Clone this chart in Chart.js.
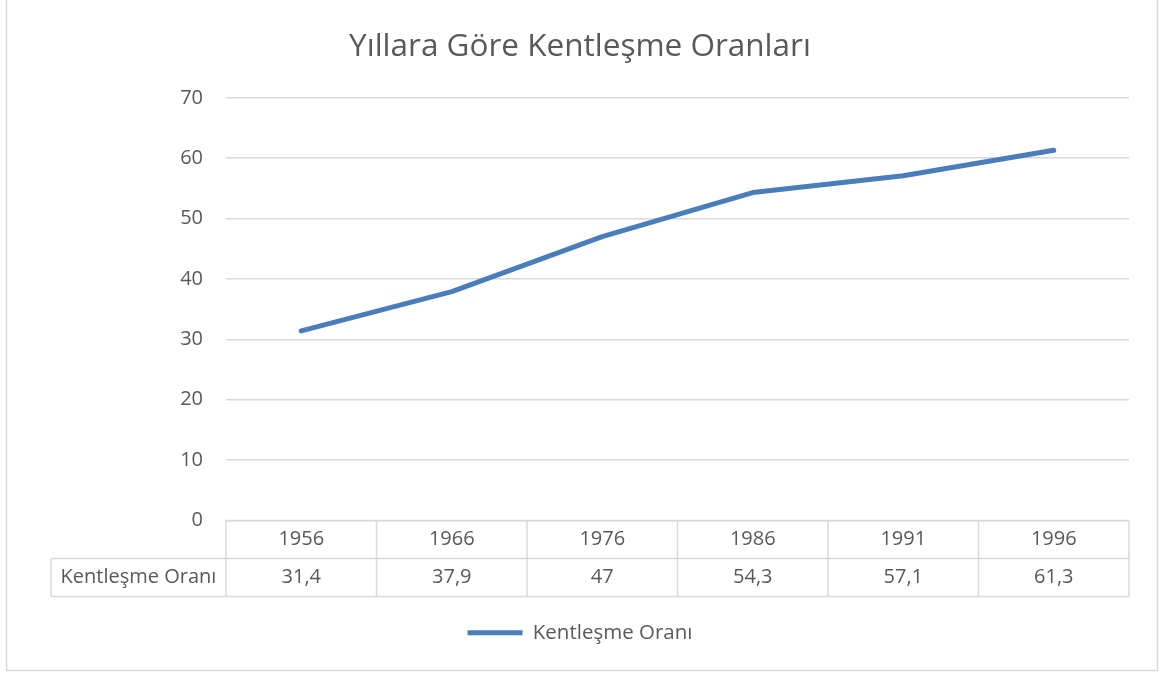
<!DOCTYPE html>
<html>
<head>
<meta charset="utf-8">
<script src="https://cdn.jsdelivr.net/npm/chart.js@4.4.1/dist/chart.umd.min.js"></script>
<style>
  html, body { margin: 0; padding: 0; background: #fff; }
  #wrap { width: 1159px; height: 673px; }
</style>
</head>
<body>
<div id="wrap"><canvas id="chart" width="1159" height="673"></canvas></div>
<script>
// data
var years = ['1956', '1966', '1976', '1986', '1991', '1996']
var kentlesme = [31.4, 37.9, 47, 54.3, 57.1, 61.3]
var seriesName = 'Kentleşme Oranı'
var chartTitle = 'Yıllara Göre Kentleşme Oranları'

var fontFamily = '"Open Sans", "Noto Sans", sans-serif'
var textColor = '#595959'
var lineColor = '#d9d9d9'

function fmt(v) {
    return String(v).replace('.', ',')
}

// draws the outer frame and the data table under the plot
var tablePlugin = {
    id: 'dataTable',
    beforeDraw: function (chart) {
        var ctx = chart.ctx
        ctx.save()
        ctx.strokeStyle = lineColor
        ctx.lineWidth = 1.5
        ctx.strokeRect(6.5, -5, 1151, 675.5)
        ctx.restore()
    },
    afterDraw: function (chart) {
        var ctx = chart.ctx
        var area = chart.chartArea
        var x = chart.scales.x
        var top = area.bottom
        var rowH = 38
        var mid = top + rowH
        var bottom = top + rowH * 2
        var headLeft = 51
        var colW = (area.right - area.left) / years.length

        ctx.save()
        ctx.strokeStyle = lineColor
        ctx.lineWidth = 1.5
        ctx.beginPath()
        ctx.moveTo(area.left, top); ctx.lineTo(area.right, top)
        ctx.moveTo(headLeft, mid); ctx.lineTo(area.right, mid)
        ctx.moveTo(headLeft, bottom); ctx.lineTo(area.right, bottom)
        ctx.moveTo(headLeft, mid); ctx.lineTo(headLeft, bottom)
        for (var i = 0; i <= years.length; i++) {
            var cx = area.left + i * colW
            ctx.moveTo(cx, top); ctx.lineTo(cx, bottom)
        }
        ctx.stroke()

        ctx.fillStyle = textColor
        ctx.font = '20px ' + fontFamily
        ctx.textAlign = 'center'
        ctx.textBaseline = 'middle'
        for (var j = 0; j < years.length; j++) {
            var px = x.getPixelForValue(j)
            ctx.fillText(years[j], px, top + rowH / 2)
            ctx.fillText(fmt(kentlesme[j]), px, mid + rowH / 2)
        }
        ctx.fillText(seriesName, (headLeft + area.left) / 2, mid + rowH / 2)
        ctx.restore()
    }
}

var ctx = document.getElementById('chart').getContext('2d')
var chart = new Chart(ctx, {
    type: 'line',
    data: {
        labels: years,
        datasets: [
            {
                label: seriesName,
                data: kentlesme,
                borderColor: '#4a7ebb',
                backgroundColor: '#4a7ebb',
                borderWidth: 5,
                borderCapStyle: 'round',
                borderJoinStyle: 'round',
                pointRadius: 0,
                pointHoverRadius: 0,
                tension: 0,
                fill: false
            }
        ]
    },
    options: {
        responsive: false,
        animation: false,
        layout: {
            padding: { top: 28, right: 30, bottom: 20, left: 31 }
        },
        scales: {
            x: {
                offset: true,
                grid: { display: false },
                border: { display: false },
                ticks: { display: false },
                afterFit: function (scale) { scale.height = 92 }
            },
            y: {
                min: 0,
                max: 70,
                ticks: {
                    stepSize: 10,
                    padding: 23,
                    color: textColor,
                    font: { family: fontFamily, size: 20 }
                },
                grid: { color: lineColor, lineWidth: 1.5, drawTicks: false },
                border: { display: false },
                afterFit: function (scale) { scale.width = 195 }
            }
        },
        plugins: {
            title: {
                display: true,
                text: chartTitle,
                color: textColor,
                font: { family: fontFamily, size: 31.5, weight: 'normal', lineHeight: 1.2 },
                padding: { top: 0, bottom: 32 }
            },
            legend: {
                position: 'bottom',
                labels: {
                    usePointStyle: true,
                    pointStyle: 'line',
                    pointStyleWidth: 55,
                    color: textColor,
                    font: { family: fontFamily, size: 20.5 }
                }
            },
            tooltip: { enabled: false }
        }
    },
    plugins: [tablePlugin]
})
</script>
</body>
</html>
